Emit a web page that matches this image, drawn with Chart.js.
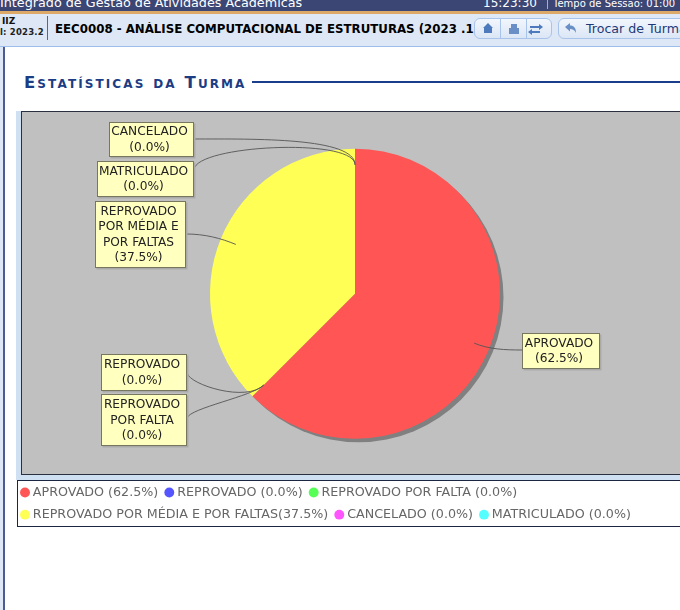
<!DOCTYPE html>
<html lang="pt-BR"><head><meta charset="utf-8">
<script src="https://cdn.jsdelivr.net/npm/chart.js@4"></script>
<style>
html,body{margin:0;padding:0;width:680px;height:610px;overflow:hidden;background:#fff;font-family:"DejaVu Sans",sans-serif}
.a{position:absolute;white-space:nowrap}
#stage{position:relative;width:680px;height:610px;overflow:hidden}
.btn{background:linear-gradient(#f2f6fc,#dbe6f6);border:1px solid #a9c4ea;border-radius:6px;box-sizing:border-box}
</style></head><body>
<div id="stage">
<div class="a" style="left:0;top:0;width:680px;height:11px;background:#3b4674;overflow:hidden"></div>
<div class="a" style="left:0;top:-5px;color:#fff;font-size:12.75px;height:16px;overflow:hidden">Integrado de Gestão de Atividades Acadêmicas</div>
<div class="a" style="left:483px;top:-4px;color:#fff;font-size:12px;height:15px;overflow:hidden">15:23:30</div>
<div class="a" style="left:547px;top:0;width:1px;height:9px;background:#d9a866"></div>
<div class="a" style="left:553px;top:-2px;color:#fff;font-size:10px">Tempo de Sessão: 01:00</div>
<div class="a" style="left:0;top:11px;width:680px;height:3px;background:#dca968"></div>
<div class="a" style="left:0;top:14px;width:680px;height:32px;background:#dee7f6"></div>
<div class="a" style="left:0;top:46px;width:680px;height:1px;background:#9dbdea"></div>
<div class="a" style="left:2px;top:16px;font-size:9px;font-weight:bold;color:#111">IIZ</div>
<div class="a" style="left:0;top:27px;font-size:8.5px;font-weight:bold;color:#222;letter-spacing:.2px">l: 2023.2</div>
<div class="a" style="left:47px;top:16px;width:1px;height:24px;background:#666"></div>
<div class="a" style="left:55px;top:22px;font-size:11.8px;font-weight:bold;color:#000;width:419px;overflow:hidden">EEC0008 - ANÁLISE COMPUTACIONAL DE ESTRUTURAS (2023 .1</div>
<div class="a btn" style="left:474px;top:18px;width:78px;height:21px"></div>
<div class="a" style="left:500px;top:18px;width:1px;height:21px;background:#a9c4ea"></div>
<div class="a" style="left:526px;top:18px;width:1px;height:21px;background:#a9c4ea"></div>
<svg class="a" style="left:480px;top:21px" width="66" height="15" viewBox="0 0 66 15">
<path d="M3 7 L8 2 L13 7 L12 7 V12 H4 V7 Z" fill="#4d79bd"/>
<path d="M31 3h6v4h2v6H29V7h2z" fill="#6a8fc6"/>
<path d="M50 5h9V3l4 3-4 3V7h-9zM60 10h-8V8l-4 3 4 3v-2h8z" fill="#4d79bd"/></svg>
<div class="a btn" style="left:558px;top:18px;width:140px;height:21px"></div>
<svg class="a" style="left:564px;top:22px" width="14" height="13" viewBox="0 0 14 13"><path d="M1 5 L6 1 V3.5 C10 3.5 12 6 12 11 C10.5 8 9 7 6 7 V9.5Z" fill="#6a8fc6"/></svg>
<div class="a" style="left:586px;top:21px;font-size:12.6px;color:#1c3a78">Trocar de Turma</div>

<div class="a" style="left:0;top:47px;width:3px;height:563px;background:#dee7f6"></div>
<div class="a" style="left:3px;top:47px;width:2px;height:563px;background:#4c5b93"></div>
<div class="a" style="left:24px;top:73px;font-size:16.5px;font-weight:bold;color:#1b3d85;font-variant:small-caps;letter-spacing:2.1px">Estatísticas da Turma</div>
<div class="a" style="left:252px;top:81px;width:428px;height:2px;background:#1a3e8c"></div>

<div class="a" style="left:16px;top:111px;width:664px;height:369px;background:#d0e0f3"></div>
<div class="a" style="left:21px;top:111px;width:670px;height:362px;background:#c0c0c0;border:1px solid #2a3040"></div>
<div class="a" style="left:17px;top:480px;width:670px;height:45px;background:#fff;border:1px solid #1c2640"></div>
<canvas id="c" class="a" style="left:14px;top:111px" width="682" height="420"></canvas>
</div>
<script>
const categories = ["APROVADO","REPROVADO","REPROVADO POR FALTA","REPROVADO POR MÉDIA E POR FALTAS","CANCELADO","MATRICULADO"];
const percentages = [62.5,0,0,37.5,0,0];
const sliceColors = ["#FF5555","#5555FF","#55FF55","#FFFF55","#FF55FF","#55FFFF"];
const legendLabels = ["APROVADO (62.5%)","REPROVADO (0.0%)","REPROVADO POR FALTA (0.0%)","REPROVADO POR MÉDIA E POR FALTAS(37.5%)","CANCELADO (0.0%)","MATRICULADO (0.0%)"];
const calloutLines = [["APROVADO","(62.5%)"],["REPROVADO","(0.0%)"],["REPROVADO","POR FALTA","(0.0%)"],["REPROVADO","POR MÉDIA E","POR FALTAS","(37.5%)"],["CANCELADO","(0.0%)"],["MATRICULADO","(0.0%)"]];
// callout box layout, canvas pixels: left, top, width, height, side the leader leaves from
const calloutBoxes = [[508,222,78,36,-1],[87,243,86,37,1],[87,283,86,52,1],[81,90,91,67,1],[95,11,85,35,1],[83,50,97,36,1]];
// leader layout: start y inside box, first control offset x/y, radial reach of the second control
const calloutLinks = [[17,-17,0,1.0],[19,3,12,1.06],[24,3,-10,1.0],[33,19,0,1.0],[17,60,0,1.08],[9,0,-25,1.08]];

const callouts = {
  id:"callouts",
  beforeDatasetsDraw(chart){
    const a = chart.getDatasetMeta(0).data[0], g = chart.ctx;
    g.save();g.fillStyle="#808080";g.beginPath();
    g.arc(a.x+3.5,a.y+3.5,a.outerRadius,0,Math.PI*2);g.fill();g.restore();
  },
  afterDatasetsDraw(chart){
    const g = chart.ctx, arcs = chart.getDatasetMeta(0).data;
    arcs.forEach((a,i)=>{
      const b = calloutBoxes[i], l = calloutLinks[i], mid=(a.startAngle+a.endAngle)/2, R=a.outerRadius;
      const ax=a.x+Math.cos(mid)*R*.89, ay=a.y+Math.sin(mid)*R*.89;
      const ox=a.x+Math.cos(mid)*R*l[3], oy=a.y+Math.sin(mid)*R*l[3];
      const sx=b[4]>0?b[0]+b[2]:b[0], sy=b[1]+l[0];
      g.save();g.strokeStyle="#555";g.lineWidth=.9;g.beginPath();g.moveTo(sx,sy);
      g.bezierCurveTo(sx+l[1],sy+l[2],ox,oy,ax,ay);
      g.stroke();g.restore();
    });
    arcs.forEach((a,i)=>{
      const b=calloutBoxes[i];
      g.save();
      g.fillStyle="#a9a9a9";g.fillRect(b[0]+1.5,b[1]+1.5,b[2],b[3]);
      g.fillStyle="#FFFFC0";g.fillRect(b[0],b[1],b[2],b[3]);
      g.strokeStyle="#77775f";g.lineWidth=1;g.strokeRect(b[0]+.5,b[1]+.5,b[2]-1,b[3]-1);
      g.fillStyle="#222";g.font='12.2px "DejaVu Sans"';g.textAlign="center";g.textBaseline="middle";
      const ls=calloutLines[i],lh=15.5,y0=b[1]+b[3]/2-(ls.length-1)*lh/2+.5;
      ls.forEach((t,k)=>g.fillText(t,b[0]+b[2]/2-2,y0+k*lh));
      g.restore();
    });
  }
};
new Chart(document.getElementById("c"),{
  type:"pie",
  data:{labels:categories,datasets:[{data:percentages,backgroundColor:sliceColors,borderWidth:0,radius:145}]},
  plugins:[callouts],
  options:{
    responsive:false,animation:false,
    layout:{padding:0},
    plugins:{
      tooltip:{enabled:false},
      legend:{position:"bottom",align:"start",
        labels:{usePointStyle:true,pointStyle:"circle",boxWidth:3,boxHeight:7,padding:9.5,color:"#666",
          font:{family:"DejaVu Sans",size:12.7},
          generateLabels(){return legendLabels.map((t,i)=>({text:t,fillStyle:sliceColors[i],strokeStyle:sliceColors[i],lineWidth:0,pointStyle:"circle",index:i,fontColor:"#666"}));}}}
    }
  }
});
</script>
</body></html>
